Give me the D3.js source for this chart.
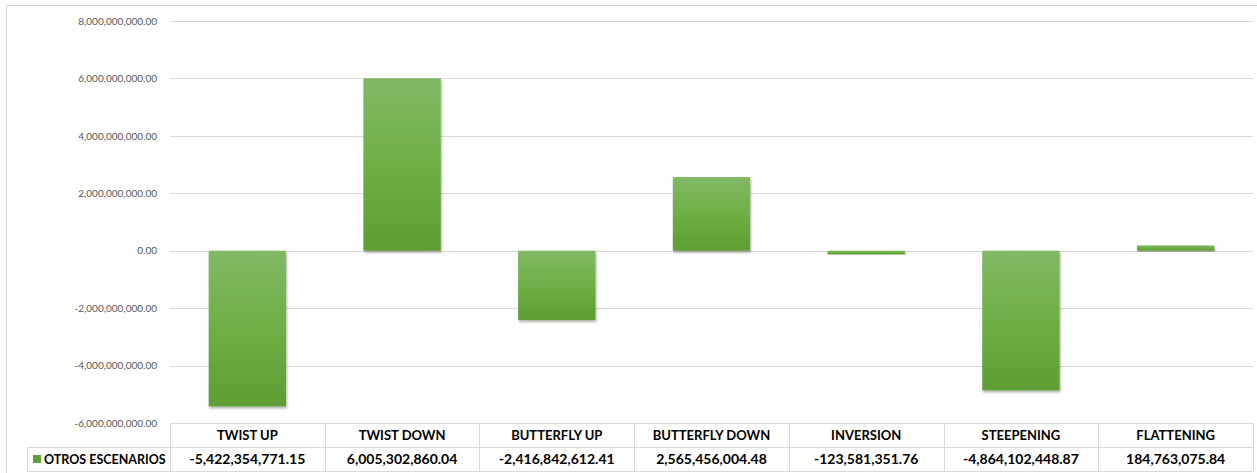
<!DOCTYPE html>
<html>
<head>
<meta charset="utf-8">
<script src="https://cdn.jsdelivr.net/npm/d3@7"></script>
<style>
  body { margin: 0; background: #fff; }
  svg { display: block; }
</style>
</head>
<body>
<svg id="chart"></svg>
<script>
// valores
const categories = ["TWIST UP", "TWIST DOWN", "BUTTERFLY UP", "BUTTERFLY DOWN", "INVERSION", "STEEPENING", "FLATTENING"]
const values = [-5422354771.15, 6005302860.04, -2416842612.41, 2565456004.48, -123581351.76, -4864102448.87, 184763075.84]
const valueLabels = ["-5,422,354,771.15", "6,005,302,860.04", "-2,416,842,612.41", "2,565,456,004.48", "-123,581,351.76", "-4,864,102,448.87", "184,763,075.84"]
const yTicks = [-6e9, -4e9, -2e9, 0, 2e9, 4e9, 6e9, 8e9]
const seriesName = "OTROS ESCENARIOS"

const width = 1257, height = 473
const margin = {top: 21, right: 4, bottom: 50, left: 170}
const font = "Lato, 'Open Sans', sans-serif"

const svg = d3.select("#chart").attr("width", width).attr("height", height)

// borde del area del grafico
svg.append("rect")
  .attr("x", 6.5).attr("y", 5.5)
  .attr("width", width + 10).attr("height", height + 10)
  .attr("fill", "none").attr("stroke", "#d9d9d9")

const defs = svg.append("defs")
const grad = defs.append("linearGradient")
  .attr("id", "barGrad").attr("x1", 0).attr("y1", 0).attr("x2", 0).attr("y2", 1)
grad.append("stop").attr("offset", "0%").attr("stop-color", "#81b964")
grad.append("stop").attr("offset", "50%").attr("stop-color", "#6eaf45")
grad.append("stop").attr("offset", "100%").attr("stop-color", "#5d9e33")

const shadow = defs.append("filter").attr("id", "shadow")
  .attr("x", "-20%").attr("y", "-20%").attr("width", "140%").attr("height", "140%")
shadow.append("feDropShadow")
  .attr("dx", 1).attr("dy", 2).attr("stdDeviation", 1.2)
  .attr("flood-color", "#000").attr("flood-opacity", 0.3)

const x = d3.scaleBand()
  .domain(categories)
  .range([margin.left, width - margin.right])
  .paddingInner(0.5).paddingOuter(0.25)

const xCell = d3.scaleBand()
  .domain(categories)
  .range([margin.left, width - margin.right])

const y = d3.scaleLinear()
  .domain([-6e9, 8e9])
  .range([height - margin.bottom, margin.top])

// formato con guion normal como en excel
const fmt = d3.formatLocale({decimal: ".", thousands: ",", grouping: [3], currency: ["", ""], minus: "-"}).format(",.2f")

// lineas de cuadricula
svg.append("g")
  .selectAll("line")
  .data(yTicks)
  .join("line")
    .attr("x1", margin.left).attr("x2", width - margin.right)
    .attr("y1", d => Math.round(y(d)) + 0.5).attr("y2", d => Math.round(y(d)) + 0.5)
    .attr("stroke", "#d9d9d9").attr("stroke-width", 1)

const yAxis = g => g
  .attr("transform", `translate(${margin.left - 10},0)`)
  .call(d3.axisLeft(y).tickValues(yTicks).tickSize(0).tickFormat(fmt))
  .call(g => g.select(".domain").remove())
  .call(g => g.selectAll("text")
    .attr("font-family", font).attr("font-size", 10).attr("fill", "#595959"))

svg.append("g").call(yAxis)

// barras
svg.append("g")
  .selectAll("rect")
  .data(values)
  .join("rect")
    .attr("x", (d, i) => x(categories[i]))
    .attr("width", x.bandwidth())
    .attr("y", d => y(Math.max(0, d)))
    .attr("height", d => Math.abs(y(d) - y(0)))
    .attr("fill", "url(#barGrad)")
    .attr("filter", "url(#shadow)")

// tabla de datos
const rowH = 24
const tableTop = y(-6e9)
const table = svg.append("g").attr("font-family", font).attr("font-weight", "bold")
  .attr("fill", "#000")

const border = "#d9d9d9"
// lineas horizontales
table.append("line").attr("x1", margin.left).attr("x2", width - margin.right)
  .attr("y1", tableTop + 0.5).attr("y2", tableTop + 0.5).attr("stroke", border)
table.append("line").attr("x1", 27).attr("x2", width - margin.right)
  .attr("y1", tableTop + rowH + 0.5).attr("y2", tableTop + rowH + 0.5).attr("stroke", border)
table.append("line").attr("x1", 27).attr("x2", width - margin.right)
  .attr("y1", tableTop + 2 * rowH + 0.5).attr("y2", tableTop + 2 * rowH + 0.5).attr("stroke", border)
// lineas verticales
table.selectAll("line.v")
  .data(categories.concat(["end"]))
  .join("line").attr("class", "v")
    .attr("x1", d => Math.round(d === "end" ? width - margin.right : xCell(d)) + 0.5)
    .attr("x2", d => Math.round(d === "end" ? width - margin.right : xCell(d)) + 0.5)
    .attr("y1", tableTop).attr("y2", tableTop + 2 * rowH)
    .attr("stroke", border)
table.append("line").attr("x1", 27.5).attr("x2", 27.5)
  .attr("y1", tableTop + rowH).attr("y2", tableTop + 2 * rowH).attr("stroke", border)

table.selectAll("text.cat")
  .data(categories)
  .join("text").attr("class", "cat")
    .attr("x", d => xCell(d) + xCell.bandwidth() / 2)
    .attr("y", tableTop + rowH / 2 + 5)
    .attr("text-anchor", "middle")
    .attr("font-size", 13)
    .text(d => d)

table.selectAll("text.val")
  .data(valueLabels)
  .join("text").attr("class", "val")
    .attr("x", (d, i) => xCell(categories[i]) + xCell.bandwidth() / 2)
    .attr("y", tableTop + rowH * 1.5 + 5)
    .attr("text-anchor", "middle")
    .attr("font-size", 14)
    .text(d => d)

// leyenda
table.append("rect").attr("x", 33).attr("y", tableTop + rowH * 1.5 - 4)
  .attr("width", 8).attr("height", 8).attr("fill", "#5fa03a")
table.append("text").attr("x", 44).attr("y", tableTop + rowH * 1.5 + 5)
  .attr("font-size", 12.5)
  .text(seriesName)
</script>
</body>
</html>
